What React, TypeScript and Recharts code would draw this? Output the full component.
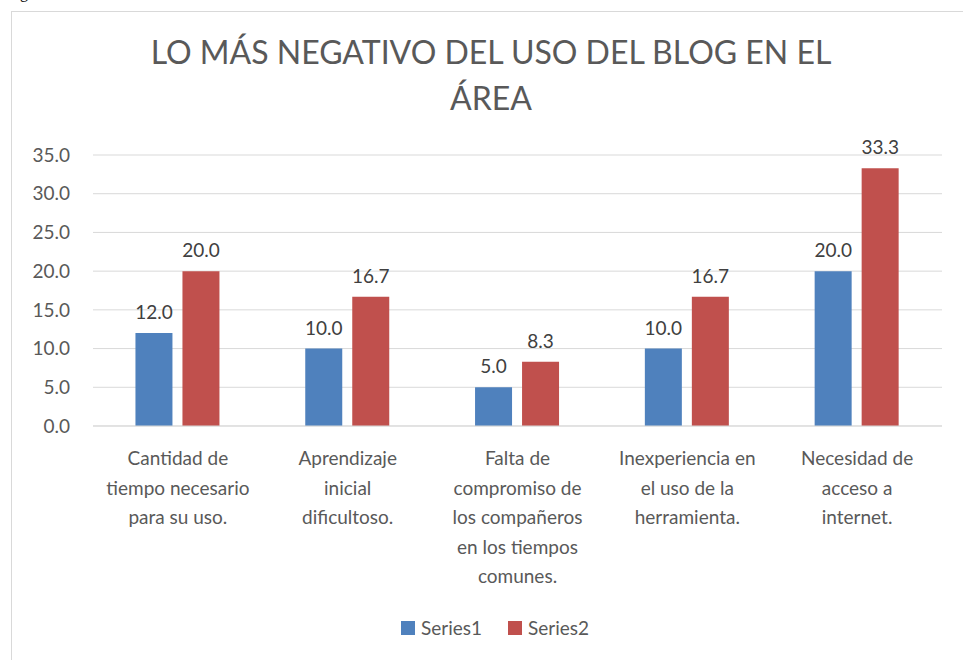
import { useEffect } from "react";
import { Bar, BarChart, CartesianGrid, LabelList, XAxis, YAxis } from "recharts";

const categories = [
  "Cantidad de\ntiempo necesario\npara su uso.",
  "Aprendizaje\ninicial\ndificultoso.",
  "Falta de\ncompromiso de\nlos compañeros\nen los tiempos\ncomunes.",
  "Inexperiencia en\nel uso de la\nherramienta.",
  "Necesidad de\nacceso a\ninternet.",
];
const series1 = [12.0, 10.0, 5.0, 10.0, 20.0];
const series2 = [20.0, 16.7, 8.3, 16.7, 33.3];
const yTicks = [0, 5, 10, 15, 20, 25, 30, 35];
const titleLines = ["LO MÁS NEGATIVO DEL USO DEL BLOG EN EL", "ÁREA"];
const legendItems = ["Series1", "Series2"];

const FONT = "Lato, 'Open Sans', sans-serif";
const BLUE = "#4f81bd";
const RED = "#c0504d";
const GREY_TEXT = "#595959";

function CategoryTick({ x, y, payload }: any) {
  const lines = String(payload.value).split("\n");
  return (
    <text x={x} y={y} textAnchor="middle" fill={GREY_TEXT} fontSize={19} fontFamily={FONT}>
      {lines.map((line, i) => (
        <tspan key={i} x={x} dy={i === 0 ? 31 : 29.5}>
          {line}
        </tspan>
      ))}
    </text>
  );
}

export default function App() {
  useEffect(() => {
    document.body.style.margin = "0";
    document.body.style.overflow = "hidden";
  }, []);

  const data = categories.map((name, i) => ({ name, s1: series1[i], s2: series2[i] }));
  const colors = [BLUE, RED];

  return (
    <div style={{ position: "fixed", left: 0, top: 0, width: 963, height: 660, overflow: "hidden", background: "#fff" }}>
      <div style={{ position: "absolute", left: 20, top: -16, fontFamily: "'Liberation Serif', serif", fontSize: 16 }}>g</div>
      <div
        style={{
          position: "absolute",
          left: 11,
          top: 11,
          width: 980,
          height: 700,
          border: "1px solid #d9d9d9",
          boxSizing: "border-box",
        }}
      />
      {titleLines.map((t, i) => (
        <div
          key={i}
          style={{
            position: "absolute",
            left: 0,
            width: 982,
            top: 34 + i * 46,
            textAlign: "center",
            fontFamily: FONT,
            fontSize: 32,
            lineHeight: "36px",
            color: GREY_TEXT,
            whiteSpace: "nowrap",
          }}
        >
          {t}
        </div>
      ))}
      <div style={{ position: "absolute", left: 0, top: 0 }}>
        <BarChart
          width={963}
          height={660}
          data={data}
          margin={{ top: 155, right: 21, bottom: 204, left: 0 }}
          barCategoryGap="25%"
          barGap={10}
        >
          <CartesianGrid vertical={false} stroke="#d9d9d9" strokeWidth={1} />
          <XAxis
            dataKey="name"
            axisLine={{ stroke: "#d9d9d9" }}
            tickLine={false}
            interval={0}
            tick={<CategoryTick />}
            height={30}
          />
          <YAxis
            domain={[0, 35]}
            ticks={yTicks}
            width={93}
            axisLine={false}
            tickLine={false}
            tickSize={0}
            tickMargin={23}
            tickFormatter={(v: number) => v.toFixed(1)}
            tick={{ fill: GREY_TEXT, fontSize: 19, fontFamily: FONT }}
          />
          <Bar dataKey="s1" name="Series1" fill={BLUE} isAnimationActive={false}>
            <LabelList
              dataKey="s1"
              position="top"
              offset={14}
              formatter={(v: any) => Number(v).toFixed(1)}
              fill="#404040"
              fontSize={19}
              fontFamily={FONT}
            />
          </Bar>
          <Bar dataKey="s2" name="Series2" fill={RED} isAnimationActive={false}>
            <LabelList
              dataKey="s2"
              position="top"
              offset={14}
              formatter={(v: any) => Number(v).toFixed(1)}
              fill="#404040"
              fontSize={19}
              fontFamily={FONT}
            />
          </Bar>
        </BarChart>
      </div>
      <div
        style={{
          position: "absolute",
          top: 616,
          left: 0,
          width: 990,
          display: "flex",
          justifyContent: "center",
          gap: 26,
          fontFamily: FONT,
          fontSize: 19,
          lineHeight: "24px",
          color: GREY_TEXT,
        }}
      >
        {legendItems.map((name, i) => (
          <div key={name} style={{ display: "flex", alignItems: "center", gap: 6 }}>
            <span style={{ width: 14, height: 14, background: colors[i], display: "inline-block" }} />
            <span>{name}</span>
          </div>
        ))}
      </div>
    </div>
  );
}
